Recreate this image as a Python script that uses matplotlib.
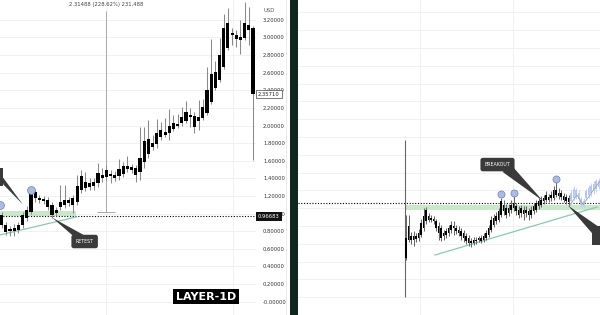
import numpy as np
import matplotlib
matplotlib.use('Agg')
from matplotlib import pyplot as plt
from matplotlib.patches import Polygon, Rectangle
from matplotlib.lines import Line2D
from matplotlib.transforms import blended_transform_factory

# left chart - LAYER daily candles
left_open = [0.87, 0.87, 0.82, 0.80, 0.81, 0.87, 0.95, 1.02, 1.24, 1.18,
             1.165, 1.15, 1.10, 1.01, 1.07, 1.10, 1.15, 1.10, 1.13, 1.27,
             1.36, 1.35, 1.31, 1.35, 1.44, 1.415, 1.45, 1.44, 1.43, 1.45,
             1.54, 1.53, 1.52, 1.47, 1.585, 1.68, 1.80, 1.79, 1.87, 1.93,
             1.915, 1.96, 2.02, 2.03, 2.05, 2.11, 2.11, 2.05, 2.085, 2.14,
             2.27, 2.43, 2.52, 2.665, 2.88, 3.05, 3.03, 3.005, 2.99, 3.14, 3.11]
left_close = [0.98, 0.79, 0.80, 0.835, 0.87, 0.98, 1.04, 1.23, 1.18, 1.15,
              1.14, 1.07, 0.98, 1.04, 1.13, 1.15, 1.12, 1.18, 1.31, 1.43,
              1.29, 1.30, 1.36, 1.46, 1.40, 1.49, 1.43, 1.40, 1.51, 1.54,
              1.51, 1.49, 1.44, 1.63, 1.82, 1.85, 1.76, 1.915, 1.95, 1.89,
              1.99, 2.03, 1.99, 2.10, 2.15, 2.10, 1.98, 2.10, 2.21, 2.40,
              2.585, 2.61, 2.80, 3.11, 3.165, 3.03, 2.98, 2.97, 3.165, 3.085, 2.3571]
left_high = [1.02, 0.90, 0.86, 0.88, 0.90, 1.02, 1.09, 1.26, 1.27, 1.21,
             1.20, 1.19, 1.13, 1.07, 1.32, 1.32, 1.19, 1.21, 1.44, 1.49,
             1.47, 1.40, 1.40, 1.57, 1.52, 1.55, 1.49, 1.48, 1.62, 1.59,
             1.65, 1.56, 1.55, 1.98, 1.98, 2.06, 1.89, 2.07, 2.04, 2.085,
             2.19, 2.12, 2.13, 2.21, 2.28, 2.20, 2.15, 2.29, 2.30, 2.665,
             2.98, 2.73, 2.99, 3.27, 3.335, 3.11, 3.085, 3.20, 3.40, 3.35, 3.13]
left_low = [0.84, 0.76, 0.74, 0.74, 0.78, 0.84, 0.92, 0.99, 1.13, 1.12,
            1.11, 1.04, 0.95, 0.97, 1.04, 1.06, 1.09, 1.01, 1.10, 1.23,
            1.26, 1.27, 1.27, 1.30, 1.36, 1.38, 1.35, 1.37, 1.38, 1.415,
            1.47, 1.46, 1.36, 1.38, 1.52, 1.63, 1.72, 1.74, 1.835, 1.87,
            1.835, 1.94, 1.97, 1.99, 2.03, 1.98, 1.915, 1.95, 2.06, 2.12,
            2.24, 2.40, 2.49, 2.64, 2.86, 2.915, 2.89, 2.81, 2.97, 2.915, 1.61]

# right chart - earlier structure with breakout
right_open = [0.44, 0.646, 0.684, 0.646, 0.684, 0.665, 0.702, 0.778, 0.853, 0.909,
              0.89, 0.882, 0.853, 0.797, 0.778, 0.684, 0.70, 0.721, 0.758, 0.797,
              0.778, 0.758, 0.74, 0.721, 0.684, 0.665, 0.609, 0.646, 0.628, 0.646,
              0.665, 0.646, 0.665, 0.702, 0.758, 0.815, 0.853, 0.871, 0.927, 1.039,
              1.002, 0.946, 0.983, 1.002, 1.021, 0.983, 0.946, 0.983, 0.946, 0.965,
              0.927, 0.965, 0.983, 1.021, 1.039, 1.077, 1.096, 1.122, 1.115, 1.115,
              1.208, 1.171, 1.171, 1.134, 1.122, 1.115]
right_close = [0.665, 0.797, 0.646, 0.684, 0.657, 0.721, 0.834, 0.909, 0.983, 0.871,
               0.871, 0.853, 0.778, 0.721, 0.665, 0.721, 0.74, 0.778, 0.815, 0.778,
               0.74, 0.721, 0.684, 0.665, 0.628, 0.609, 0.635, 0.609, 0.646, 0.665,
               0.635, 0.684, 0.721, 0.778, 0.871, 0.89, 0.909, 0.965, 1.077, 0.965,
               0.927, 1.002, 1.039, 1.058, 0.965, 0.927, 1.002, 0.935, 0.983, 0.927,
               0.983, 1.021, 1.058, 1.077, 1.096, 1.115, 1.152, 1.096, 1.152, 1.208,
               1.152, 1.134, 1.122, 1.096, 1.077, 1.07]
right_high = [0.924, 0.927, 0.73, 0.74, 0.72, 0.77, 0.88, 1.00, 1.01, 0.95,
              0.92, 0.91, 0.88, 0.84, 0.81, 0.76, 0.78, 0.81, 0.86, 0.853,
              0.81, 0.80, 0.78, 0.76, 0.72, 0.70, 0.665, 0.68, 0.68, 0.69,
              0.70, 0.72, 0.76, 0.81, 0.91, 0.935, 0.955, 1.00, 1.12, 1.09,
              1.05, 1.05, 1.09, 1.134, 1.06, 1.02, 1.04, 1.02, 1.02, 1.00,
              1.02, 1.06, 1.09, 1.11, 1.14, 1.15, 1.197, 1.16, 1.19, 1.25,
              1.302, 1.23, 1.20, 1.17, 1.16, 1.15]
right_low = [0.418, 0.62, 0.60, 0.572, 0.62, 0.63, 0.68, 0.74, 0.82, 0.84,
             0.85, 0.82, 0.74, 0.64, 0.63, 0.64, 0.665, 0.69, 0.72, 0.702,
             0.71, 0.69, 0.64, 0.62, 0.60, 0.575, 0.56, 0.585, 0.60, 0.62,
             0.61, 0.62, 0.64, 0.68, 0.73, 0.79, 0.82, 0.85, 0.90, 0.92,
             0.89, 0.91, 0.946, 0.97, 0.92, 0.89, 0.90, 0.87, 0.90, 0.87,
             0.89, 0.935, 0.955, 0.995, 1.015, 1.05, 1.07, 1.07, 1.08, 1.09,
             1.126, 1.10, 1.09, 1.07, 1.05, 1.025]

# projected (ghost) candles on the right
ghost_start = 66
ghost_open = [1.08, 1.12, 1.20, 1.17, 1.10, 1.03, 1.12, 1.15, 1.17, 1.19, 1.21, 1.24]
ghost_close = [1.17, 1.22, 1.13, 1.10, 1.04, 1.08, 1.19, 1.23, 1.25, 1.27, 1.30, 1.31]
ghost_path_x = [65.6, 68.4, 70.8, 77.6]
ghost_path_y = [1.035, 1.148, 1.04, 1.305]

price_ticks = [0.0, 0.2, 0.4, 0.6, 0.8, 1.0, 1.2, 1.4, 1.6, 1.8, 2.0, 2.2, 2.4, 2.6, 2.8, 3.0, 3.2]
price_labels = ['-0.00000'] + ['%.5f' % v for v in price_ticks[1:]]

last_price = 2.3571
level_left = 0.96683
zone_left = (0.967, 1.03)
trend_left = ([-0.4, 17.7], [0.756, 0.960])
retest_pt = (12, 0.955)
measure_lo, measure_hi = 1.0125, 3.30
measure_x = 24.9

level_right = 1.058
zone_right = (0.98, 1.036)
trend_right = ([11.6, 76.4], [0.474, 1.013])
breakout_pt = (54.8, 1.081)
right_circles_x = [38, 43, 60]
right_circles_y = [1.16, 1.17, 1.33]

GREEN = '#c9e7c9'
TEAL = '#86c9b5'
CALLOUT = '#3a3a3a'
CIRC_FC = '#a9bbe6'
CIRC_EC = '#6f80aa'


def draw_candles(ax, o, h, l, c, x0=0, width=0.65, body='black', wick='#8a8a8a', alpha=1.0):
    o, h, l, c = map(np.asarray, (o, h, l, c))
    x = np.arange(len(o)) + x0
    ax.vlines(x, l, h, color=wick, lw=0.75, zorder=3, alpha=alpha)
    bottom = np.minimum(o, c)
    height = np.maximum(np.abs(c - o), 0.014)
    ax.bar(x, height, width, bottom=bottom, color=body, lw=0, zorder=4, alpha=alpha)


fig = plt.figure(figsize=(6, 3.15), dpi=100)
fig.patch.set_facecolor('white')

# ---------- left panel ----------
axL = fig.add_axes([0, 0, 256 / 600, 1])
axL.set_xlim(-0.4, 60.7)
axL.set_ylim(-0.153, 3.426)
for s in axL.spines.values():
    s.set_visible(False)
axL.yaxis.tick_right()
axL.set_yticks(price_ticks)
axL.set_yticklabels(price_labels, fontsize=3.8, color='#333333')
axL.set_xticks([measure_x, 55.2])
axL.tick_params(axis='y', length=0, pad=5)
axL.tick_params(axis='x', length=0, labelbottom=False)
axL.grid(color='#efefef', lw=0.6)
axL.set_axisbelow(True)

axL.fill_between([-0.4, 17.7], zone_left[0], zone_left[1], color=GREEN, lw=0, zorder=1)
axL.axhline(level_left, color='black', lw=0.8, ls=(0, (1, 1.5)), zorder=2)
axL.plot(trend_left[0], trend_left[1], color=TEAL, lw=0.9, zorder=2)

# measure tool
axL.vlines(measure_x, measure_lo, measure_hi, color='#a8a8a8', lw=0.7, zorder=2)
axL.hlines(measure_lo, measure_x - 2.1, measure_x + 2.1, color='#a8a8a8', lw=0.7, zorder=2)
axL.text(measure_x, 3.37, '2.31488 (228.62%) 231,488', ha='center', va='center',
         fontsize=3.8, color='#444444')

draw_candles(axL, left_open, left_high, left_low, left_close, width=0.75, wick='#8a8a8a')

axL.scatter([7, -0.4], [1.27, 1.10], s=32, fc=CIRC_FC, ec=CIRC_EC, lw=0.5, zorder=6, clip_on=True)

# top-left callout (cut by the edge)
axL.add_patch(Rectangle((-8, 1.31), 8.3, 0.21, fc=CALLOUT, ec='none', zorder=7))
axL.add_patch(Polygon([(0.0, 1.43), (0.4, 1.33), (5.1, 1.10)], closed=True, fc=CALLOUT, ec='none', zorder=7))

# retest callout
axL.add_patch(Polygon([retest_pt, (17.2, 0.74), (19.8, 0.75)], closed=True, fc=CALLOUT, ec='none', zorder=7))
axL.text(19.8, 0.682, 'RETEST', ha='center', va='center', fontsize=3.4, color='white', zorder=8,
         bbox=dict(boxstyle='round,pad=0.9,rounding_size=0.5', fc=CALLOUT, ec='none'))

# price scale labels
trL = blended_transform_factory(axL.transAxes, axL.transData)
axL.text(1.008, last_price, '2.35710', transform=trL, ha='left', va='center', fontsize=3.8,
         color='#222222', zorder=9, bbox=dict(boxstyle='square,pad=0.35', fc='white', ec='#444444', lw=0.5))
axL.text(1.008, level_left, '0.96683', transform=trL, ha='left', va='center', fontsize=3.8,
         color='white', zorder=9, bbox=dict(boxstyle='square,pad=0.35', fc='#111111', ec='none'))
fig.text(263 / 600, 1 - 10 / 315, 'USD', ha='left', va='center', fontsize=3.8, color='#555555')
fig.add_artist(Line2D([286 / 600, 286 / 600], [0, 1], color='#e8e8e8', lw=0.6))

fig.text(206 / 600, 1 - 296.5 / 315, 'LAYER-1D', ha='center', va='center', fontsize=8,
         weight='bold', color='white', bbox=dict(boxstyle='square,pad=0.25', fc='black', ec='none'))

# divider between the two screenshots
fig.add_artist(Rectangle((290 / 600, 0), 8 / 600, 1, transform=fig.transFigure,
                         fc='#10261f', ec='none'))

# ---------- right panel ----------
axR = fig.add_axes([298 / 600, 0, 302 / 600, 1])
axR.set_xlim(-43.2, 77.6)
axR.set_ylim(-0.2, 3.339)
for s in axR.spines.values():
    s.set_visible(False)
axR.set_yticks(price_ticks)
axR.set_xticks([5.6, 42.8])
axR.tick_params(length=0, labelleft=False, labelbottom=False)
axR.grid(color='#efefef', lw=0.6)
axR.set_axisbelow(True)

axR.fill_between([-0.4, 77.6], zone_right[0], zone_right[1], color=GREEN, lw=0, zorder=1)
axR.axhline(level_right, color='black', lw=0.8, ls=(0, (1, 1.5)), zorder=2)
axR.plot(trend_right[0], trend_right[1], color=TEAL, lw=0.9, zorder=2)
axR.vlines(-0.4, 0.0, 1.77, color='#666666', lw=0.8, zorder=2)

draw_candles(axR, right_open, right_high, right_low, right_close, width=0.7, wick='#666666')
gx = ghost_start
draw_candles(axR, ghost_open, np.maximum(ghost_open, ghost_close) + 0.03,
             np.minimum(ghost_open, ghost_close) - 0.03, ghost_close, x0=gx, width=0.7,
             body='#b5c6f2', wick='#c3d0f2')
axR.plot(ghost_path_x, ghost_path_y, color='#9aa6c4', lw=0.6, zorder=5)

axR.scatter(right_circles_x, right_circles_y, s=26, fc=CIRC_FC, ec=CIRC_EC, lw=0.5, zorder=6)

# breakout callout
axR.add_patch(Polygon([breakout_pt, (38.5, 1.41), (43.2, 1.45)], closed=True, fc=CALLOUT, ec='none', zorder=7))
axR.text(36.6, 1.49, 'BREAKOUT', ha='center', va='center', fontsize=3.4, color='white', zorder=8,
         bbox=dict(boxstyle='round,pad=0.9,rounding_size=0.5', fc=CALLOUT, ec='none'))

# callout cut by right edge
axR.add_patch(Polygon([(64.8, 1.03), (74.4, 0.72), (76.6, 0.80)], closed=True, fc=CALLOUT, ec='none', zorder=7))
axR.add_patch(Rectangle((74.4, 0.59), 10, 0.21, fc=CALLOUT, ec='none', zorder=7))

fig.savefig('out.png', dpi=100)
